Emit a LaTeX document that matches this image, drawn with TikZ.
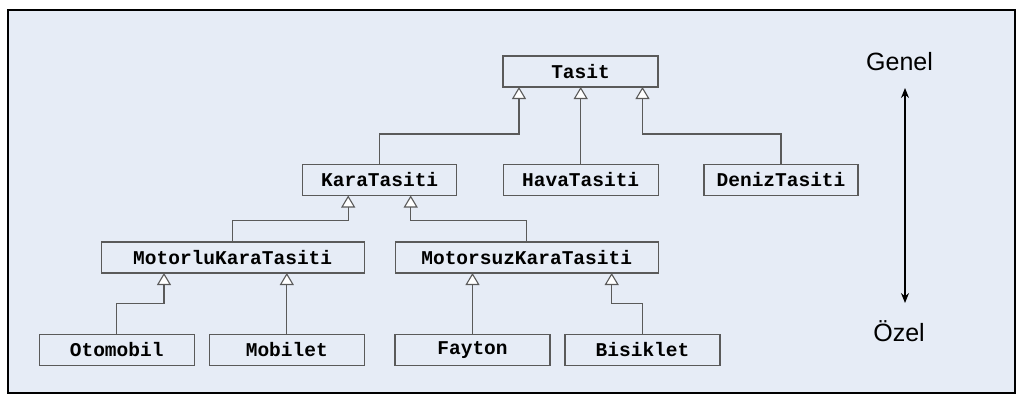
\documentclass[tikz,border=0pt]{standalone}
\usepackage{fontspec}
\setmainfont{Liberation Sans}
\newfontfamily\codefont{Liberation Mono}
\usetikzlibrary{arrows.meta,calc}
\definecolor{bgc}{HTML}{E6ECF6}
\definecolor{linec}{HTML}{5A5A5A}
\tikzset{
  cls/.style={draw=linec, line width=1.2pt, fill=bgc, inner sep=0pt, outer sep=0pt,
    minimum height=31pt, font=\codefont\bfseries\fontsize{19.5}{22}\selectfont},
  inh/.style={draw=linec, line width=1.2pt,
    -{Triangle[open, fill=white, length=12pt, width=14pt, line width=1.1pt]}},
  lbl/.style={font=\fontsize{25}{28}\selectfont, anchor=base, inner sep=0pt}
}
\begin{document}
\begin{tikzpicture}[x=1pt,y=-1pt]
\useasboundingbox (0,0) rectangle (1024,400);
\draw[line width=2.5pt, fill=bgc] (8,10) rectangle (1015,393);
% classes
\node[cls, minimum width=155pt] (tasit) at (580.5,71.5) {Tasit};
\node[cls, minimum width=154pt] (kara) at (379.7,180) {KaraTasiti};
\node[cls, minimum width=155pt] (hava) at (580.7,180) {HavaTasiti};
\node[cls, minimum width=154pt] (deniz) at (781,180) {DenizTasiti};
\node[cls, minimum width=263pt] (motorlu) at (232.7,257.5) {MotorluKaraTasiti};
\node[cls, minimum width=263pt] (motorsuz) at (526.7,257.5) {MotorsuzKaraTasiti};
\node[cls, minimum width=155pt] (otomobil) at (116.7,350) {Otomobil};
\node[cls, minimum width=155pt] (mobilet) at (286.8,350) {Mobilet};
\node[cls, minimum width=155pt] (fayton) at (472.5,350) {Fayton};
\node[cls, minimum width=155pt] (bisiklet) at (642.5,350) {Bisiklet};
% inheritance
\draw[inh] (kara.north) |- ($(tasit.south)+(-61.5,47)$) -- ($(tasit.south)+(-61.5,0)$);
\draw[inh] (hava.north) -- (hava.north |- tasit.south);
\draw[inh] (deniz.north) |- ($(tasit.south)+(62,47)$) -- ($(tasit.south)+(62,0)$);
\draw[inh] (motorlu.north) |- ($(kara.south)+(-31.5,25)$) -- ($(kara.south)+(-31.5,0)$);
\draw[inh] (motorsuz.north) |- ($(kara.south)+(31,25)$) -- ($(kara.south)+(31,0)$);
\draw[inh] (otomobil.north) |- ($(motorlu.south)+(-68.7,30.5)$) -- ($(motorlu.south)+(-68.7,0)$);
\draw[inh] (mobilet.north) -- (mobilet.north |- motorlu.south);
\draw[inh] (fayton.north) -- (fayton.north |- motorsuz.south);
\draw[inh] (bisiklet.north) |- ($(motorsuz.south)+(85,30.5)$) -- ($(motorsuz.south)+(85,0)$);
% scale
\node[lbl] (genel) at (899.5,70) {Genel};
\node[lbl] (ozel) at (899,341.5) {Özel};
\coordinate (g1) at (905,88);
\coordinate (g2) at (905,303);
\draw[line width=1.2pt, {Stealth[length=10pt,width=8pt]}-{Stealth[length=10pt,width=8pt]}] (g1) -- (g2);
\end{tikzpicture}
\end{document}
